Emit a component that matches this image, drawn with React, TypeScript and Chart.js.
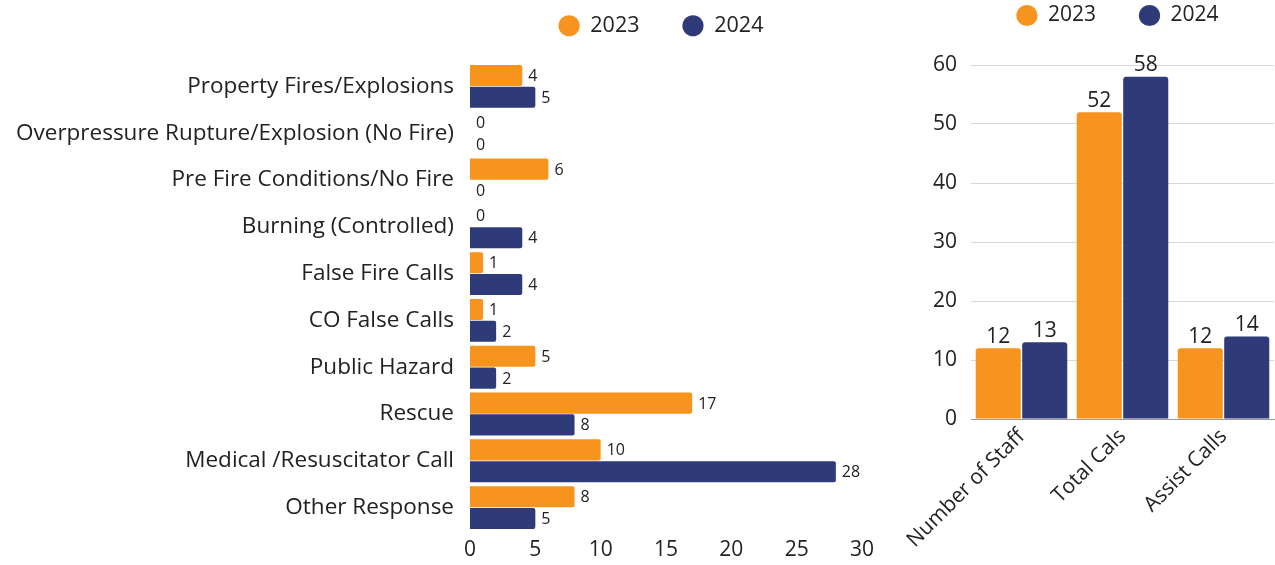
import React, { useEffect, useRef } from "react";
import { Chart, registerables } from "chart.js";

Chart.register(...registerables);

const seriesLabels = ["2023", "2024"];
const seriesColors = ["#F7941D", "#2E3B78"];

const incidentCategories = [
  "Property Fires/Explosions",
  "Overpressure Rupture/Explosion (No Fire)",
  "Pre Fire Conditions/No Fire",
  "Burning (Controlled)",
  "False Fire Calls",
  "CO False Calls",
  "Public Hazard",
  "Rescue",
  "Medical /Resuscitator Call",
  "Other Response",
];
const incidents2023 = [4, 0, 6, 0, 1, 1, 5, 17, 10, 8];
const incidents2024 = [5, 0, 0, 4, 4, 2, 2, 8, 28, 5];

const summaryCategories = ["Number of Staff", "Total Cals", "Assist Calls"];
const summary2023 = [12, 52, 12];
const summary2024 = [13, 58, 14];

const LEFT_FONT = '"Open Sans"';
const RIGHT_FONT = '"Open Sans"';
const TEXT = "#222222";

function legendPlugin(h: number, shiftX: number) {
  return {
    id: "legendTweak",
    beforeInit(chart: any) {
      const lg = chart.legend;
      if (!lg) return;
      const fit = lg.fit;
      lg.fit = function () {
        fit.call(this);
        this.height = h;
      };
    },
    afterLayout(chart: any) {
      const lg = chart.legend;
      if (!lg) return;
      lg.left += shiftX;
      lg.right += shiftX;
    },
  };
}

const hLabels = {
  id: "hLabels",
  afterDatasetsDraw(chart: any) {
    const ctx = chart.ctx;
    ctx.save();
    ctx.font = `16px ${LEFT_FONT}`;
    ctx.fillStyle = TEXT;
    ctx.textBaseline = "middle";
    ctx.textAlign = "left";
    chart.data.datasets.forEach((ds: any, i: number) => {
      const meta = chart.getDatasetMeta(i);
      meta.data.forEach((el: any, j: number) => {
        ctx.fillText(String(ds.data[j]), el.x + 6, el.y + 1);
      });
    });
    ctx.restore();
  },
};

const vLabels = {
  id: "vLabels",
  afterDatasetsDraw(chart: any) {
    const ctx = chart.ctx;
    ctx.save();
    ctx.font = `21px ${RIGHT_FONT}`;
    ctx.fillStyle = TEXT;
    ctx.textBaseline = "bottom";
    ctx.textAlign = "center";
    chart.data.datasets.forEach((ds: any, i: number) => {
      const meta = chart.getDatasetMeta(i);
      meta.data.forEach((el: any, j: number) => {
        ctx.fillText(String(ds.data[j]), el.x, el.y - 1);
      });
    });
    ctx.restore();
  },
};

export default function App() {
  const leftRef = useRef<HTMLCanvasElement>(null);
  const rightRef = useRef<HTMLCanvasElement>(null);

  useEffect(() => {
    document.body.style.margin = "0";
    const left = new Chart(leftRef.current as HTMLCanvasElement, {
      type: "bar",
      data: {
        labels: incidentCategories,
        datasets: [
          { label: seriesLabels[0], data: incidents2023, backgroundColor: seriesColors[0] },
          { label: seriesLabels[1], data: incidents2024, backgroundColor: seriesColors[1] },
        ],
      },
      options: {
        indexAxis: "y",
        responsive: false,
        animation: false,
        layout: { padding: { top: -28, right: 28, bottom: 0, left: 0 } },
        datasets: {
          bar: { categoryPercentage: 0.93, barPercentage: 0.97, borderRadius: 2 },
        } as any,
        scales: {
          x: {
            min: 0,
            max: 30,
            ticks: { stepSize: 5, padding: 6, color: TEXT, font: { family: LEFT_FONT, size: 21 } },
            grid: { display: false, drawTicks: false },
            border: { display: false },
            afterFit: (s: any) => {
              s.height = 34;
            },
          },
          y: {
            ticks: { padding: 16, color: TEXT, font: { family: LEFT_FONT, size: 22.5 } },
            grid: { display: false, drawTicks: false },
            border: { display: false },
            afterFit: (s: any) => {
              s.width = 470;
            },
          },
        },
        plugins: {
          legend: {
            position: "top",
            fullSize: false,
            labels: {
              usePointStyle: true,
              pointStyle: "circle",
              boxWidth: 21,
              boxHeight: 15,
              padding: 43,
              color: TEXT,
              font: { family: LEFT_FONT, size: 21.5 },
            },
          },
          tooltip: { enabled: false },
        },
      },
      plugins: [legendPlugin(91, -5), hLabels],
    });

    const right = new Chart(rightRef.current as HTMLCanvasElement, {
      type: "bar",
      data: {
        labels: summaryCategories,
        datasets: [
          { label: seriesLabels[0], data: summary2023, backgroundColor: seriesColors[0] },
          { label: seriesLabels[1], data: summary2024, backgroundColor: seriesColors[1] },
        ],
      },
      options: {
        responsive: false,
        animation: false,
        layout: { padding: { top: -38, right: 1, bottom: 0, left: 0 } },
        datasets: {
          bar: { categoryPercentage: 0.92, barPercentage: 0.97, borderRadius: 3 },
        } as any,
        scales: {
          x: {
            ticks: {
              minRotation: 45,
              maxRotation: 45,
              padding: 5,
              color: TEXT,
              font: { family: RIGHT_FONT, size: 21 },
            },
            grid: { display: false, drawTicks: false },
            border: { display: true, color: "#999999", width: 1 },
            afterFit: (s: any) => {
              s.height = 146;
            },
          },
          y: {
            min: 0,
            max: 60,
            ticks: { stepSize: 10, padding: 14, color: TEXT, font: { family: RIGHT_FONT, size: 21 } },
            grid: { color: "#D9D9D9", drawTicks: false },
            border: { display: false },
            afterFit: (s: any) => {
              s.width = 81;
            },
          },
        },
        plugins: {
          legend: {
            position: "top",
            fullSize: false,
            labels: {
              usePointStyle: true,
              pointStyle: "circle",
              boxWidth: 21,
              boxHeight: 15,
              padding: 43,
              color: TEXT,
              font: { family: RIGHT_FONT, size: 21 },
            },
          },
          tooltip: { enabled: false },
        },
      },
      plugins: [legendPlugin(103, -5), vLabels],
    });

    return () => {
      left.destroy();
      right.destroy();
    };
  }, []);

  return (
    <div style={{ position: "relative", width: 1275, height: 565, background: "#fff" }}>
      <canvas
        ref={leftRef}
        width={890}
        height={565}
        style={{ position: "absolute", left: 0, top: 0, width: 890, height: 565 }}
      />
      <canvas
        ref={rightRef}
        width={385}
        height={565}
        style={{ position: "absolute", left: 890, top: 0, width: 385, height: 565 }}
      />
    </div>
  );
}
